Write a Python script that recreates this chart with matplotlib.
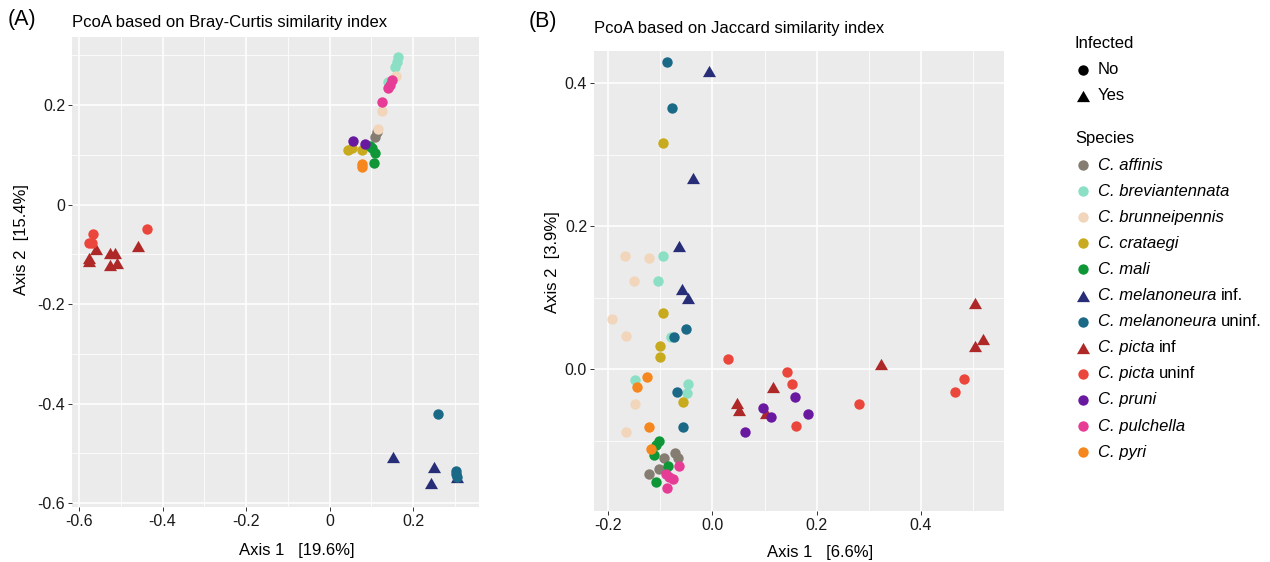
import matplotlib
matplotlib.use("Agg")
import matplotlib.pyplot as plt

plt.rcParams['font.family'] = ['Liberation Sans', 'DejaVu Sans']
plt.rcParams['axes.unicode_minus'] = False

# ---------------- data ----------------
SPECIES_IT = ["C. affinis", "C. breviantennata", "C. brunneipennis", "C. crataegi",
              "C. mali", "C. melanoneura", "C. melanoneura", "C. picta", "C. picta",
              "C. pruni", "C. pulchella", "C. pyri"]
SPECIES_SUFFIX = ["", "", "", "", "", "inf.", "uninf.", "inf", "uninf", "", "", ""]
INFECTED = [False, False, False, False, False, True, False, True, False, False, False, False]
COLORS = ["#857C72", "#8ADFC4", "#F1D6BB", "#C8AA1E", "#0F9637", "#282D78",
          "#196987", "#AF2828", "#EB463C", "#6919A0", "#E63C96", "#F5871E"]

# Bray-Curtis PCoA (panel A)
bc_affinis_x = [0.109, 0.114]
bc_affinis_y = [0.136, 0.146]
bc_brevi_x = [0.164, 0.162, 0.157, 0.140]
bc_brevi_y = [0.296, 0.287, 0.276, 0.246]
bc_brunn_x = [0.159, 0.126, 0.116]
bc_brunn_y = [0.258, 0.188, 0.152]
bc_crat_x = [0.044, 0.078, 0.054]
bc_crat_y = [0.110, 0.110, 0.114]
bc_mali_x = [0.102, 0.109, 0.107, 0.097]
bc_mali_y = [0.114, 0.104, 0.083, 0.118]
bc_melinf_x = [0.152, 0.250, 0.243, 0.305]
bc_melinf_y = [-0.508, -0.528, -0.560, -0.548]
bc_meluninf_x = [0.260, 0.303, 0.305, 0.303]
bc_meluninf_y = [-0.421, -0.536, -0.548, -0.542]
bc_picinf_x = [-0.559, -0.576, -0.576, -0.526, -0.514, -0.526, -0.509, -0.459]
bc_picinf_y = [-0.089, -0.107, -0.114, -0.098, -0.098, -0.122, -0.118, -0.083]
bc_picuninf_x = [-0.566, -0.569, -0.576, -0.437]
bc_picuninf_y = [-0.059, -0.077, -0.077, -0.049]
bc_pruni_x = [0.056, 0.085]
bc_pruni_y = [0.128, 0.122]
bc_pulch_x = [0.150, 0.145, 0.140, 0.126]
bc_pulch_y = [0.250, 0.240, 0.234, 0.206]
bc_pyri_x = [0.078, 0.078]
bc_pyri_y = [0.081, 0.075]

# Jaccard PCoA (panel B)
jc_affinis_x = [-0.093, -0.072, -0.066, -0.103, -0.122]
jc_affinis_y = [-0.124, -0.117, -0.124, -0.139, -0.146]
jc_brevi_x = [-0.095, -0.104, -0.080, -0.148, -0.047, -0.049]
jc_brevi_y = [0.158, 0.123, 0.045, -0.015, -0.021, -0.033]
jc_brunn_x = [-0.168, -0.122, -0.150, -0.193, -0.166, -0.148, -0.166]
jc_brunn_y = [0.159, 0.155, 0.124, 0.071, 0.047, -0.049, -0.088]
jc_crat_x = [-0.095, -0.095, -0.101, -0.101, -0.057]
jc_crat_y = [0.316, 0.079, 0.032, 0.017, -0.046]
jc_mali_x = [-0.103, -0.108, -0.112, -0.085, -0.108]
jc_mali_y = [-0.100, -0.106, -0.120, -0.135, -0.158]
jc_melinf_x = [-0.007, -0.037, -0.064, -0.058, -0.047]
jc_melinf_y = [0.417, 0.268, 0.173, 0.112, 0.100]
jc_meluninf_x = [-0.087, -0.078, -0.051, -0.074, -0.068, -0.057]
jc_meluninf_y = [0.429, 0.365, 0.056, 0.045, -0.031, -0.081]
jc_picinf_x = [0.503, 0.518, 0.503, 0.323, 0.116, 0.047, 0.051, 0.103]
jc_picinf_y = [0.093, 0.043, 0.033, 0.008, -0.025, -0.047, -0.057, -0.061]
jc_picuninf_x = [0.030, 0.143, 0.152, 0.160, 0.281, 0.482, 0.465]
jc_picuninf_y = [0.015, -0.004, -0.021, -0.079, -0.049, -0.013, -0.032]
jc_pruni_x = [0.158, 0.097, 0.112, 0.183, 0.062]
jc_pruni_y = [-0.039, -0.054, -0.067, -0.063, -0.088]
jc_pulch_x = [-0.064, -0.089, -0.076, -0.083, -0.087]
jc_pulch_y = [-0.135, -0.146, -0.153, -0.151, -0.166]
jc_pyri_x = [-0.125, -0.145, -0.122, -0.118]
jc_pyri_y = [-0.010, -0.025, -0.081, -0.112]

BC = [(bc_affinis_x, bc_affinis_y), (bc_brevi_x, bc_brevi_y), (bc_brunn_x, bc_brunn_y),
      (bc_crat_x, bc_crat_y), (bc_mali_x, bc_mali_y), (bc_melinf_x, bc_melinf_y),
      (bc_meluninf_x, bc_meluninf_y), (bc_picinf_x, bc_picinf_y),
      (bc_picuninf_x, bc_picuninf_y), (bc_pruni_x, bc_pruni_y),
      (bc_pulch_x, bc_pulch_y), (bc_pyri_x, bc_pyri_y)]
JC = [(jc_affinis_x, jc_affinis_y), (jc_brevi_x, jc_brevi_y), (jc_brunn_x, jc_brunn_y),
      (jc_crat_x, jc_crat_y), (jc_mali_x, jc_mali_y), (jc_melinf_x, jc_melinf_y),
      (jc_meluninf_x, jc_meluninf_y), (jc_picinf_x, jc_picinf_y),
      (jc_picuninf_x, jc_picuninf_y), (jc_pruni_x, jc_pruni_y),
      (jc_pulch_x, jc_pulch_y), (jc_pyri_x, jc_pyri_y)]

# ---------------- figure ----------------
W, H = 1270, 562
fig = plt.figure(figsize=(W / 100, H / 100), dpi=100)

TRI = [(0, 0.433), (-0.5, -0.433), (0.5, -0.433), (0, 0.433)]
S_CIRC = 56
S_TRI = 88


def px_axes(l, t, r, b):
    return fig.add_axes([l / W, 1 - b / H, (r - l) / W, (b - t) / H])


def style(ax, xt, xtl, xminor, yt, ytl, yminor, xlim, ylim):
    ax.set_facecolor("#EBEBEB")
    for s in ax.spines.values():
        s.set_visible(False)
    ax.set_xlim(*xlim)
    ax.set_ylim(*ylim)
    ax.set_xticks(xt)
    ax.set_xticklabels(xtl)
    ax.set_yticks(yt)
    ax.set_yticklabels(ytl)
    ax.set_xticks(xminor, minor=True)
    ax.set_yticks(yminor, minor=True)
    ax.grid(True, which="major", color="white", lw=1.1)
    ax.grid(True, which="minor", color="white", lw=0.55)
    ax.set_axisbelow(True)
    ax.tick_params(which="major", length=3, width=0.7, color="#333333",
                   labelsize=11.5, labelcolor="#1A1A1A", pad=2)
    ax.tick_params(which="minor", length=0)


def draw(ax, data):
    for (x, y), c, inf in zip(data, COLORS, INFECTED):
        ax.scatter(x, y, s=S_TRI if inf else S_CIRC, marker=TRI if inf else "o",
                   color=c, linewidths=0, zorder=3)


axA = px_axes(72, 37, 479, 507)
style(axA, [-0.6, -0.4, -0.2, 0, 0.2], ["-0.6", "-0.4", "-0.2", "0", "0.2"],
      [-0.5, -0.3, -0.1, 0.1, 0.3],
      [-0.6, -0.4, -0.2, 0, 0.2], ["-0.6", "-0.4", "-0.2", "0", "0.2"],
      [-0.5, -0.3, -0.1, 0.1, 0.3],
      (-0.617, 0.358), (-0.608, 0.337))
draw(axA, BC)

axB = px_axes(594, 51, 1004, 511)
style(axB, [-0.2, 0, 0.2, 0.4], ["-0.2", "0.0", "0.2", "0.4"],
      [-0.1, 0.1, 0.3, 0.5],
      [0, 0.2, 0.4], ["0.0", "0.2", "0.4"],
      [-0.1, 0.1, 0.3],
      (-0.227, 0.559), (-0.198, 0.445))
draw(axB, JC)

# overlay for annotations / legend in pixel coordinates
ov = fig.add_axes([0, 0, 1, 1], facecolor="none")
ov.set_xlim(0, W)
ov.set_ylim(H, 0)
ov.axis("off")

ov.text(8, 20, "(A)", fontsize=15.5, va="center", ha="left")
ov.text(72, 22, "PcoA based on Bray-Curtis similarity index", fontsize=12, va="center")
ov.text(529, 22, "(B)", fontsize=15.5, va="center", ha="left")
ov.text(594, 28, "PcoA based on Jaccard similarity index", fontsize=12, va="center")
ov.text(297, 550, "Axis 1   [19.6%]", fontsize=12, ha="center", va="center")
ov.text(820, 552, "Axis 1   [6.6%]", fontsize=12, ha="center", va="center")
ov.text(22, 240, "Axis 2  [15.4%]", fontsize=12, ha="center", va="center", rotation=90)
ov.text(552, 262, "Axis 2  [3.9%]", fontsize=12, ha="center", va="center", rotation=90)

# legend
LX_M, LX_T = 1083, 1098
ov.text(1075, 44, "Infected", fontsize=12, va="center")
ov.scatter([LX_M], [70], s=S_CIRC, marker="o", color="black", linewidths=0)
ov.text(LX_T, 70, "No", fontsize=12, va="center")
ov.scatter([LX_M], [96], s=S_TRI, marker=TRI, color="black", linewidths=0)
ov.text(LX_T, 96, "Yes", fontsize=12, va="center")
ov.text(1075, 139, "Species", fontsize=12, va="center")

renderer = fig.canvas.get_renderer()
for i, (name, suf, c, inf) in enumerate(zip(SPECIES_IT, SPECIES_SUFFIX, COLORS, INFECTED)):
    y = 165 + 26.1 * i
    ov.scatter([LX_M], [y], s=S_TRI if inf else S_CIRC, marker=TRI if inf else "o",
               color=c, linewidths=0)
    t = ov.text(LX_T, y, name, fontsize=12, va="center", style="italic")
    if suf:
        bb = t.get_window_extent(renderer=renderer)
        x1 = ov.transData.inverted().transform((bb.x1, bb.y0))[0]
        ov.text(x1 + 4, y, suf, fontsize=12, va="center")

fig.savefig("out.png", dpi=100)
